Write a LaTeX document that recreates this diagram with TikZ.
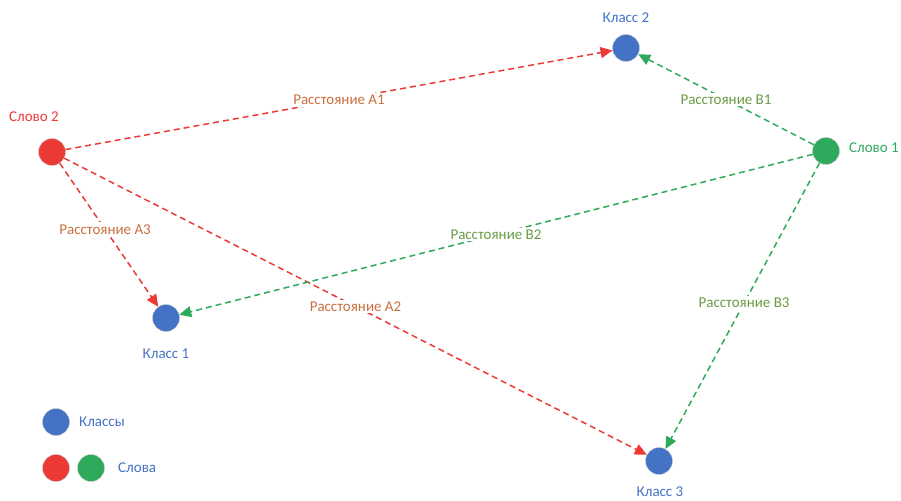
\documentclass[tikz,border=0pt]{standalone}
\usepackage{fontspec}
\setmainfont{Carlito}
\usetikzlibrary{arrows.meta}

\definecolor{clsblue}{HTML}{4472C4}
\definecolor{wordred}{HTML}{EC3A37}
\definecolor{wordgreen}{HTML}{2FAA5D}
\definecolor{distA}{HTML}{C8703E}
\definecolor{distB}{HTML}{6B9B45}

\tikzset{
  dot/.style={circle, minimum size=27pt, inner sep=0pt, draw=gray!40, line width=0.4pt},
  txt/.style={font=\fontsize{15}{18}\selectfont, inner sep=1pt},
  dist/.style={txt, fill=white, inner sep=2pt},
  link/.style={dash pattern=on 6pt off 4pt, line width=1.5pt,
    -{Triangle[length=12pt,width=11pt]}},
}

\begin{document}
\begin{tikzpicture}[x=1pt, y=-1pt]
\useasboundingbox (0,0) rectangle (901,500);

% Words and classes
\node[dot, fill=wordred]   (word2)  at (52,152)  {};
\node[dot, fill=wordgreen] (word1)  at (826,151) {};
\node[dot, fill=clsblue]   (class1) at (166,318) {};
\node[dot, fill=clsblue]   (class2) at (626,48)  {};
\node[dot, fill=clsblue]   (class3) at (659,461) {};

\node[txt, text=wordred]   at (34,117)  {Слово 2};
\node[txt, text=wordgreen] at (874,148) {Слово 1};
\node[txt, text=clsblue]   at (166,354) {Класс 1};
\node[txt, text=clsblue]   at (626,18)  {Класс 2};
\node[txt, text=clsblue]   at (660,492) {Класс 3};

% Distances from word 2
\draw[link, wordred] (word2) -- (class2) node[dist, text=distA, pos=0.5]  {Расстояние A1};
\draw[link, wordred] (word2) -- (class3) node[dist, text=distA, pos=0.5]  {Расстояние A2};
\draw[link, wordred] (word2) -- (class1) node[dist, text=distA, pos=0.46] {Расстояние A3};

% Distances from word 1
\draw[link, wordgreen] (word1) -- (class2) node[dist, text=distB, pos=0.5]  {Расстояние B1};
\draw[link, wordgreen] (word1) -- (class1) node[dist, text=distB, pos=0.5]  {Расстояние B2};
\draw[link, wordgreen] (word1) -- (class3) node[dist, text=distB, pos=0.49] {Расстояние B3};

% Legend
\node[dot, fill=clsblue]   (keyclass) at (56,422) {};
\node[dot, fill=wordred]   (keyred)   at (56,468) {};
\node[dot, fill=wordgreen] (keygreen) at (91,468) {};
\node[txt, text=clsblue, anchor=west] at (78,422)  {Классы};
\node[txt, text=clsblue, anchor=west] at (117,468) {Слова};

\end{tikzpicture}
\end{document}
